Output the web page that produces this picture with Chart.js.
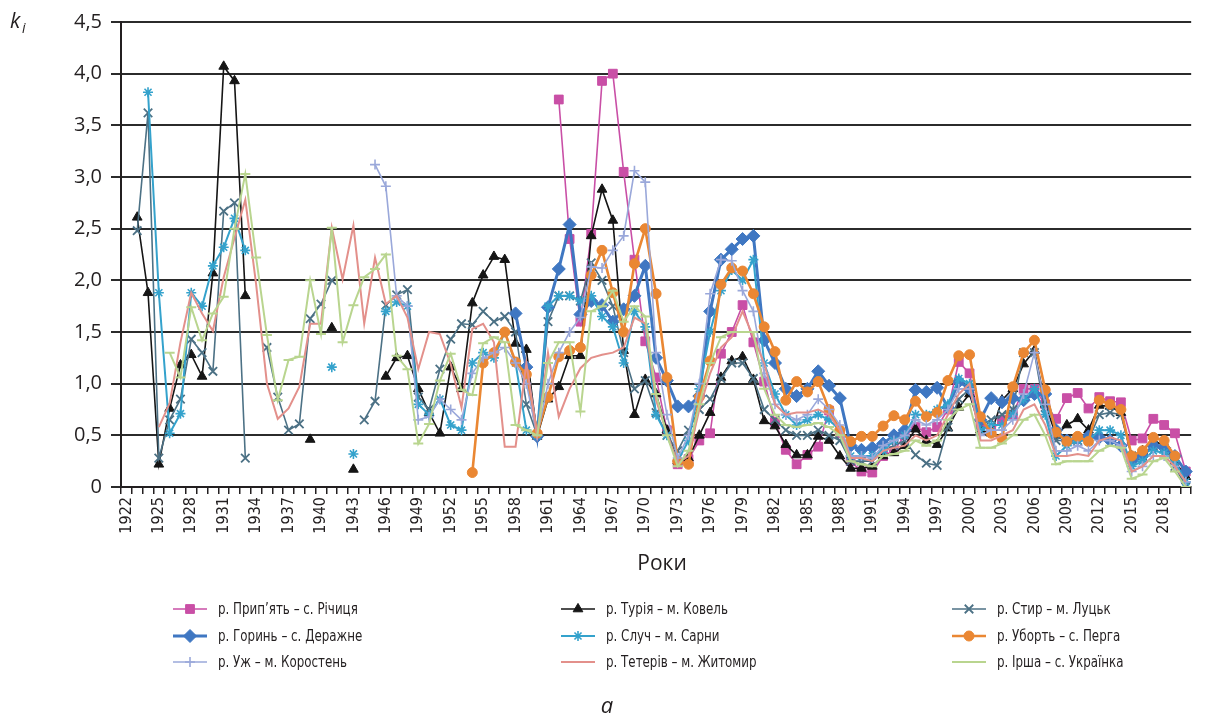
<!DOCTYPE html>
<html>
<head>
<meta charset="utf-8">
<script src="https://cdn.jsdelivr.net/npm/chart.js@4.4.1/dist/chart.umd.min.js"></script>
<style>
  html, body { margin: 0; padding: 0; background: #ffffff; }
  #wrap { position: relative; width: 1208px; height: 725px; }
  canvas { display: block; filter: blur(0.35px); }
</style>
</head>
<body>
<div id="wrap"><canvas id="chart" width="1208" height="725"></canvas></div>
<script>
// Missing observation
const _ = null;

// Years of record (categories)
const years = [];
for (let y = 1922; y <= 2020; y++) years.push(String(y));

// Years that carry a tick label
const labelledYears = [1922, 1925, 1928, 1931, 1934, 1937, 1940, 1943, 1946, 1949, 1952, 1955,
  1958, 1961, 1964, 1967, 1970, 1973, 1976, 1979, 1982, 1985, 1988, 1991, 1994, 1997, 2000,
  2003, 2006, 2009, 2012, 2015, 2018];

// Y-axis tick values
const yTicks = [0, 0.5, 1.0, 1.5, 2.0, 2.5, 3.0, 3.5, 4.0, 4.5];

// k_i by year, one row per decade starting 1922
const pryp = [
  _, _, _, _, _, _, _, _, _, _,
  _, _, _, _, _, _, _, _, _, _,
  _, _, _, _, _, _, _, _, _, _,
  _, _, _, _, _, _, _, _, _, _,
  3.75, 2.4, 1.6, 2.45, 3.93, 4.0, 3.05, 2.2, 1.41, 1.06,
  0.55, 0.22, 0.27, 0.45, 0.52, 1.29, 1.5, 1.76, 1.4, 1.02,
  0.63, 0.36, 0.22, 0.31, 0.39, 0.74, 0.52, 0.25, 0.15, 0.14,
  0.3, 0.35, 0.5, 0.58, 0.53, 0.58, 0.75, 1.21, 1.1, 0.6,
  0.55, 0.65, 0.7, 0.95, 0.95, 0.8, 0.66, 0.86, 0.91, 0.76,
  0.87, 0.83, 0.82, 0.45, 0.47, 0.66, 0.6, 0.52, 0.15
];
const turia = [
  _, 2.61, 1.88, 0.22, 0.76, 1.18, 1.28, 1.07, 2.07, 4.07,
  3.93, 1.85, _, _, _, _, _, 0.46, _, 1.54,
  _, 0.17, _, _, 1.07, 1.25, 1.27, 0.95, 0.72, 0.52,
  1.16, 0.95, 1.78, 2.05, 2.23, 2.2, 1.39, 1.33, 0.49, 0.85,
  0.97, 1.27, 1.27, 2.43, 2.88, 2.58, 1.32, 0.7, 1.04, 0.9,
  0.55, 0.25, 0.28, 0.5, 0.72, 1.06, 1.22, 1.26, 1.04, 0.64,
  0.59, 0.41, 0.31, 0.31, 0.49, 0.45, 0.3, 0.18, 0.18, 0.2,
  0.3, 0.33, 0.4, 0.56, 0.45, 0.41, 0.57, 0.77, 0.9, 0.55,
  0.52, 0.84, 0.95, 1.19, 1.32, 0.8, 0.5, 0.6, 0.66, 0.55,
  0.79, 0.78, 0.72, 0.3, 0.35, 0.45, 0.4, 0.25, 0.1
];
const styr = [
  _, 2.48, 3.62, 0.28, 0.65, 0.85, 1.43, 1.3, 1.12, 2.67,
  2.75, 0.28, _, 1.35, 0.87, 0.55, 0.61, 1.63, 1.77, 2.0,
  _, _, 0.65, 0.83, 1.76, 1.86, 1.91, 0.87, 0.75, 1.14,
  1.43, 1.58, 1.57, 1.7, 1.6, 1.65, 1.5, 0.8, 0.5, 1.6,
  1.85, 1.85, 1.8, 2.17, 2.0, 1.75, 1.3, 0.95, 1.03, 0.72,
  0.5, 0.35, 0.55, 0.75, 0.85, 1.05, 1.2, 1.2, 1.05, 0.75,
  0.65, 0.55, 0.5, 0.5, 0.55, 0.5, 0.45, 0.25, 0.25, 0.25,
  0.35, 0.4, 0.45, 0.31, 0.23, 0.21, 0.58, 0.85, 0.95, 0.6,
  0.65, 0.7, 0.75, 1.3, 1.3, 0.7, 0.45, 0.45, 0.45, 0.45,
  0.7, 0.72, 0.7, 0.3, 0.3, 0.4, 0.38, 0.2, 0.0
];
const horyn = [
  _, _, _, _, _, _, _, _, _, _,
  _, _, _, _, _, _, _, _, _, _,
  _, _, _, _, _, _, _, _, _, _,
  _, _, _, _, _, _, 1.68, 1.16, 0.49, 1.74,
  2.11, 2.54, 1.67, 1.8, 1.76, 1.6, 1.72, 1.85, 2.14, 1.25,
  1.03, 0.78, 0.78, 0.88, 1.7, 2.2, 2.3, 2.4, 2.43, 1.42,
  1.2, 0.95, 0.88, 0.95, 1.12, 0.98, 0.86, 0.4, 0.36, 0.38,
  0.42, 0.5, 0.55, 0.94, 0.92, 0.96, 0.77, 1.02, 0.95, 0.65,
  0.86, 0.82, 0.86, 0.84, 0.9, 0.9, 0.55, 0.45, 0.47, 0.49,
  0.48, 0.45, 0.4, 0.25, 0.3, 0.4, 0.38, 0.3, 0.15
];
const sluch = [
  _, _, 3.82, 1.88, 0.52, 0.71, 1.88, 1.75, 2.14, 2.32,
  2.6, 2.29, _, _, _, _, _, _, _, 1.16,
  _, 0.32, _, _, 1.7, 1.79, 1.75, 0.8, 0.7, 0.85,
  0.6, 0.55, 1.2, 1.3, 1.25, 1.5, 1.2, 0.55, 0.5, 1.75,
  1.85, 1.85, 1.8, 1.85, 1.65, 1.55, 1.2, 1.7, 1.55, 0.7,
  0.5, 0.25, 0.45, 0.95, 1.5, 1.9, 2.1, 2.0, 2.2, 1.2,
  0.9, 0.7, 0.6, 0.65, 0.7, 0.65, 0.55, 0.3, 0.3, 0.3,
  0.35, 0.45, 0.5, 0.7, 0.7, 0.75, 0.8, 1.05, 1.0, 0.55,
  0.6, 0.6, 0.7, 0.85, 0.95, 0.7, 0.3, 0.4, 0.45, 0.45,
  0.55, 0.55, 0.5, 0.2, 0.25, 0.35, 0.33, 0.25, 0.05
];
const perha = [
  _, _, _, _, _, _, _, _, _, _,
  _, _, _, _, _, _, _, _, _, _,
  _, _, _, _, _, _, _, _, _, _,
  _, _, 0.14, 1.2, 1.3, 1.5, 1.21, 1.09, 0.52, 0.87,
  1.26, 1.32, 1.35, 2.05, 2.29, 1.88, 1.5, 2.16, 2.5, 1.87,
  1.06, 0.25, 0.22, 0.87, 1.22, 1.96, 2.12, 2.09, 1.87, 1.55,
  1.31, 0.84, 1.02, 0.92, 1.02, 0.75, 0.55, 0.44, 0.49, 0.49,
  0.59, 0.69, 0.65, 0.83, 0.68, 0.72, 1.03, 1.27, 1.28, 0.68,
  0.52, 0.47, 0.97, 1.3, 1.42, 0.94, 0.53, 0.44, 0.49, 0.44,
  0.84, 0.8, 0.75, 0.3, 0.35, 0.48, 0.45, 0.3, _
];
const uzh = [
  _, _, _, _, _, _, _, _, _, _,
  _, _, _, _, _, _, _, _, _, _,
  _, _, _, 3.12, 2.91, 1.85, 1.75, 0.65, 0.68, 0.85,
  0.75, 0.65, 1.1, 1.25, 1.3, 1.35, 1.2, 1.0, 0.5, 1.0,
  1.3, 1.5, 1.64, 2.13, 2.12, 2.29, 2.43, 3.06, 2.95, 1.3,
  0.7, 0.28, 0.5, 1.0, 1.87, 2.2, 2.19, 1.9, 1.7, 1.1,
  0.8, 0.7, 0.65, 0.7, 0.85, 0.75, 0.6, 0.3, 0.3, 0.28,
  0.4, 0.45, 0.5, 0.65, 0.6, 0.65, 0.75, 0.95, 0.95, 0.5,
  0.55, 0.55, 0.65, 0.9, 1.3, 0.8, 0.35, 0.35, 0.4, 0.35,
  0.45, 0.45, 0.4, 0.15, 0.2, 0.3, 0.3, 0.2, 0.05
];
const teteriv = [
  _, _, _, 0.58, 0.81, 1.4, 1.88, 1.68, 1.51, 2.03,
  2.41, 2.78, 1.96, 1.0, 0.66, 0.76, 0.97, 1.58, 1.58, 2.51,
  2.01, 2.53, 1.58, 2.22, 1.77, 1.85, 1.64, 1.14, 1.5, 1.48,
  1.19, 0.77, 1.53, 1.58, 1.4, 0.39, 0.39, 1.2, 0.5, 1.3,
  0.68, 0.95, 1.15, 1.25, 1.28, 1.3, 1.35, 1.64, 1.58, 0.84,
  0.52, 0.23, 0.3, 0.75, 1.1, 1.35, 1.45, 1.7, 1.45, 1.2,
  0.8, 0.7, 0.72, 0.72, 0.75, 0.7, 0.55, 0.28, 0.28, 0.25,
  0.35, 0.38, 0.4, 0.5, 0.45, 0.5, 0.7, 0.9, 1.0, 0.45,
  0.45, 0.5, 0.55, 0.75, 0.8, 0.6, 0.3, 0.3, 0.32, 0.3,
  0.45, 0.48, 0.45, 0.15, 0.2, 0.3, 0.3, 0.2, 0.05
];
const irsha = [
  _, _, _, _, 1.3, 1.06, 1.74, 1.42, 1.68, 1.84,
  2.5, 3.03, 2.22, 1.47, 0.84, 1.23, 1.26, 2.0, 1.48, 2.51,
  1.4, 1.76, 2.03, 2.11, 2.25, 1.27, 1.14, 0.42, 0.61, 1.03,
  1.29, 0.94, 0.89, 1.39, 1.45, 1.4, 0.6, 0.55, 0.5, 1.2,
  1.4, 1.4, 0.73, 1.7, 1.75, 1.9, 1.6, 1.75, 1.65, 0.9,
  0.5, 0.2, 0.35, 0.8, 1.2, 1.45, 1.5, 1.5, 1.5, 0.95,
  0.7, 0.6, 0.58, 0.6, 0.62, 0.58, 0.5, 0.25, 0.22, 0.2,
  0.3, 0.32, 0.35, 0.45, 0.4, 0.45, 0.65, 0.75, 0.8, 0.38,
  0.38, 0.42, 0.5, 0.65, 0.7, 0.5, 0.22, 0.25, 0.25, 0.25,
  0.35, 0.4, 0.38, 0.08, 0.12, 0.25, 0.28, 0.15, 0.0
];

// Gauging stations, in legend order (row by row)
const stationNames = [
  'р. Прип\u2019ять \u2013 с. Річиця', 'р. Турія \u2013 м. Ковель', 'р. Стир \u2013 м. Луцьк',
  'р. Горинь \u2013 с. Деражне', 'р. Случ \u2013 м. Сарни', 'р. Уборть \u2013 с. Перга',
  'р. Уж \u2013 м. Коростень', 'р. Тетерів \u2013 м. Житомир', 'р. Ірша \u2013 с. Українка'
];
const stationData = [pryp, turia, styr, horyn, sluch, perha, uzh, teteriv, irsha];

const styles = [
  { color: '#c94fa6', point: 'rect',     radius: 6.2, width: 1.6, pbw: 1 },
  { color: '#151515', point: 'triangle', radius: 5.6, width: 1.6, pbw: 1 },
  { color: '#4c7185', point: 'crossRot', radius: 6,   width: 1.6, pbw: 1.8 },
  { color: '#3f77c2', point: 'rectRot',  radius: 6.5, width: 3,   pbw: 1 },
  { color: '#34a2cc', point: 'star',     radius: 5,   width: 2,   pbw: 1.6 },
  { color: '#ea8733', point: 'circle',   radius: 5,   width: 2.6, pbw: 1 },
  { color: '#9aa8da', point: 'cross',    radius: 5,   width: 1.6, pbw: 1.6 },
  { color: '#e3908b', point: false,      radius: 0,   width: 2,   pbw: 0 },
  { color: '#b9d58f', point: 'line',     radius: 5,   width: 2,   pbw: 2 }
];

const NARROW = "'Liberation Sans Narrow', 'DejaVu Sans Condensed', 'Open Sans', sans-serif";
const SANS = "'Open Sans', 'Noto Sans', sans-serif";

const datasets = stationData.map((d, i) => ({
  label: stationNames[i],
  data: d,
  borderColor: styles[i].color,
  backgroundColor: styles[i].color,
  borderWidth: styles[i].width,
  pointStyle: styles[i].point,
  pointRadius: styles[i].radius,
  pointHoverRadius: styles[i].radius,
  pointBackgroundColor: styles[i].color,
  pointBorderColor: styles[i].color,
  pointBorderWidth: styles[i].pbw,
  tension: 0,
  spanGaps: false,
  order: stationData.length - i
}));

// Legend, axis caption and panel letter
const annotations = {
  id: 'annotations',
  afterDraw(chart) {
    const ctx = chart.ctx;
    ctx.save();
    ctx.fillStyle = '#231f20';
    ctx.textBaseline = 'middle';

    // axis caption
    ctx.textAlign = 'center';
    ctx.font = "21px " + SANS;
    ctx.fillText('Роки', 662, 564);

    // y caption k_i
    ctx.textAlign = 'left';
    ctx.font = "italic 21px " + SANS;
    ctx.fillText('k', 10, 22);
    ctx.font = "italic 14px " + SANS;
    ctx.fillText('i', 22, 29);

    // panel letter
    ctx.textAlign = 'center';
    ctx.font = "italic 22px " + SANS;
    ctx.fillText('a', 607, 707);

    // legend (3 columns x 3 rows)
    const colX = [173, 561, 952];
    const rowY = [609, 636, 662];
    ctx.textAlign = 'left';
    for (let i = 0; i < stationNames.length; i++) {
      const x = colX[i % 3], y = rowY[Math.floor(i / 3)];
      const s = styles[i];
      ctx.strokeStyle = s.color;
      ctx.fillStyle = s.color;
      ctx.lineWidth = s.width;
      ctx.beginPath();
      ctx.moveTo(x, y);
      ctx.lineTo(x + 34, y);
      ctx.stroke();
      if (s.point && Chart.helpers && Chart.helpers.drawPoint) {
        ctx.lineWidth = s.pbw;
        Chart.helpers.drawPoint(ctx, { pointStyle: s.point, radius: s.radius, rotation: 0, borderWidth: s.pbw }, x + 17, y);
      }
      // condensed label text
      ctx.save();
      ctx.translate(x + 45, y + 1);
      ctx.scale(0.88, 1);
      ctx.font = "15px " + NARROW;
      ctx.fillStyle = '#231f20';
      ctx.fillText(stationNames[i], 0, 0);
      ctx.restore();
    }
    ctx.restore();
  }
};

new Chart(document.getElementById('chart'), {
  type: 'line',
  data: { labels: years, datasets },
  plugins: [annotations],
  options: {
    responsive: false,
    animation: false,
    devicePixelRatio: 1,
    layout: { padding: { top: 22, right: 3, left: 0, bottom: 0 } },
    plugins: { legend: { display: false }, tooltip: { enabled: false } },
    scales: {
      x: {
        type: 'category',
        offset: true,
        afterFit(scale) { scale.height = 238; },
        grid: {
          offset: true,
          drawOnChartArea: false,
          drawTicks: true,
          tickLength: 7,
          color: '#231f20',
          lineWidth: 1.5
        },
        border: { display: true, color: '#231f20', width: 2 },
        ticks: {
          autoSkip: false,
          maxRotation: 90,
          minRotation: 90,
          padding: 3,
          color: '#231f20',
          font: { family: NARROW, size: 16 },
          callback(value) {
            const lbl = this.getLabelForValue(value);
            return labelledYears.includes(Number(lbl)) ? lbl : '';
          }
        }
      },
      y: {
        min: 0,
        max: 4.5,
        afterFit(scale) { scale.width = 121; },
        afterBuildTicks(scale) { scale.ticks = yTicks.map(v => ({ value: v })); },
        grid: {
          color: '#2b2b2b',
          lineWidth: 2,
          tickLength: 10,
          drawTicks: true
        },
        border: { display: true, color: '#231f20', width: 2 },
        ticks: {
          padding: 9,
          color: '#231f20',
          font: { family: SANS, size: 20 },
          callback(value) { return value === 0 ? '0' : value.toFixed(1).replace('.', ','); }
        }
      }
    }
  }
});
</script>
</body>
</html>
